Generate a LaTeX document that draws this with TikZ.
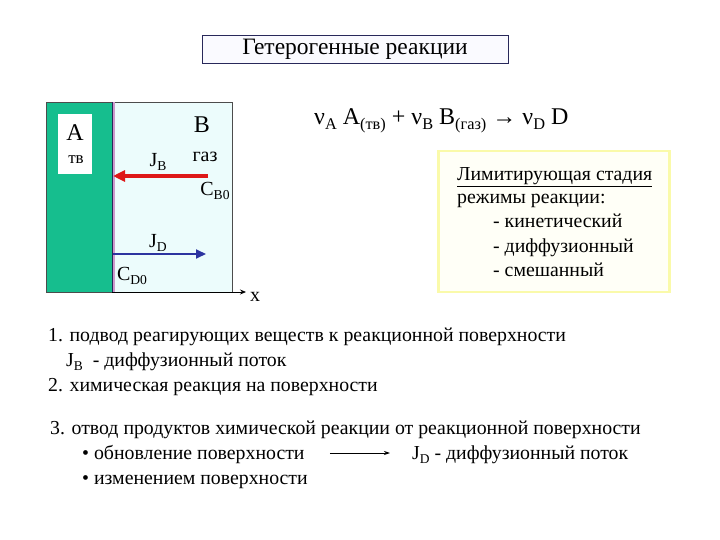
\documentclass[tikz,border=0pt]{standalone}
\usepackage{fontspec}
\setmainfont{Liberation Serif}
\usetikzlibrary{arrows.meta}
\definecolor{solidgreen}{RGB}{22,190,142}
\definecolor{gasbg}{RGB}{236,252,252}
\definecolor{jbred}{RGB}{222,24,24}
\definecolor{jdblue}{RGB}{44,52,160}
\definecolor{navy}{RGB}{40,40,90}
\definecolor{ybord}{RGB}{250,250,170}
\newcommand\lowr[1]{\raisebox{-0.45ex}{\scalebox{0.68}{#1}}}
\tikzset{
  txt/.style={anchor=base west, inner sep=0pt, font=\fontsize{19.8}{23}\selectfont},
  big/.style={inner sep=0pt, font=\fontsize{24}{28}\selectfont},
  lbl/.style={inner sep=0pt, font=\fontsize{20}{24}\selectfont},
}
\begin{document}
\begin{tikzpicture}[x=1pt,y=-1pt]
\useasboundingbox (0,0) rectangle (720,540);
% title
\node[draw=navy, fill=blue!2, minimum width=306pt, minimum height=28pt, inner sep=0pt,
      font=\fontsize{23.5}{26}\selectfont] (title) at (355,49) {Гетерогенные реакции};
% left diagram
\fill[solidgreen] (46,102) rectangle (112,292);
\fill[gasbg] (112,102) rectangle (232,292);
\draw[black!70] (46,102) rectangle (232,292);
\draw[violet!40, line width=2pt] (113.5,102) -- (113.5,292);
\draw[navy, line width=0.8pt] (112,102) -- (112,292);
\node[fill=white, minimum width=34pt, minimum height=60pt, inner sep=0pt] (abox) at (75,144) {};
\node[big] (A) at (75,133) {A};
\node[lbl, font=\fontsize{17}{19}\selectfont] (tv) at (76,160) {тв};
\node[big] (B) at (202,125) {B};
\node[lbl] (gaz) at (205,157) {газ};
\node[lbl] (JB) at (158,162) {J\lowr{B}};
\node[lbl] (CB0) at (215,191) {C\lowr{B0}};
\node[lbl] (JD) at (158,243) {J\lowr{D}};
\node[lbl] (CD0) at (132,276) {C\lowr{D0}};
\coordinate (jbs) at (208,176);
\coordinate (jbe) at (113,176);
\draw[jbred, line width=3.5pt, -{Triangle[length=12pt,width=11pt]}] (jbs) -- (jbe);
\coordinate (jds) at (113,254);
\coordinate (jde) at (206,254);
\draw[jdblue, line width=1.8pt, -{Triangle[length=10pt,width=9pt]}] (jds) -- (jde);
\coordinate (xs) at (112,292);
\coordinate (xe) at (246,292);
\draw[line width=0.8pt, -{Stealth[length=6pt,width=5pt]}] (xs) -- (xe);
\node[lbl] (x) at (255,297) {x};
% reaction
\node[big, anchor=base west] (react) at (314,125) {ν\lowr{A} A\lowr{(тв)} + ν\lowr{B} B\lowr{(газ)} → ν\lowr{D} D};
% limiting box
\node[draw=ybord, line width=2.5pt, fill=yellow!3, minimum width=231pt, minimum height=141pt, inner sep=0pt] (limbox) at (554,221.5) {};
\node[txt] (l1) at (457,181) {\underline{Лимитирующая стадия}};
\node[txt] (l2) at (457,204) {режимы реакции:};
\node[txt] (l3) at (493,228) {- кинетический};
\node[txt] (l4) at (493,252) {- диффузионный};
\node[txt] (l5) at (493,276) {- смешанный};
% bottom text
\node[txt] (b1) at (48,341) {1. подвод реагирующих веществ к реакционной поверхности};
\node[txt] (b2) at (66,366) {J\lowr{B} \ - диффузионный поток};
\node[txt] (b3) at (48,391) {2. химическая реакция на поверхности};
\node[txt] (b4) at (50,434) {3. отвод продуктов химической реакции от реакционной поверхности};
\node[txt] (b5) at (82,459) {• обновление поверхности};
\node[txt] (b6) at (412,459) {J\lowr{D} - диффузионный поток};
\node[txt] (b7) at (82,484) {• изменением поверхности};
\draw[line width=0.8pt, -{Stealth[length=6pt,width=4pt]}] ([xshift=25pt,yshift=6pt]b5.base east) -- ([xshift=-22pt,yshift=6pt]b6.base west);
\end{tikzpicture}
\end{document}
